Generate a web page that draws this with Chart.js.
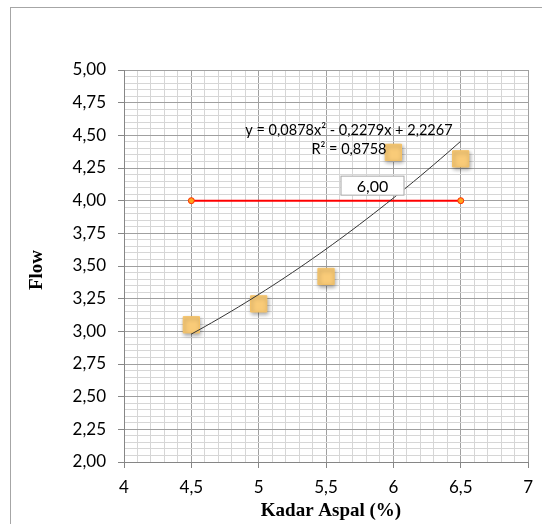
<!DOCTYPE html>
<html lang="id">
<head>
<meta charset="UTF-8">
<title>Flow vs Kadar Aspal</title>
<script src="https://cdn.jsdelivr.net/npm/chart.js"></script>
<style>
    html, body { margin: 0; padding: 0; background: #fff; }
    #wrap { position: relative; width: 542px; height: 524px; overflow: hidden; }
    #frame {
        position: absolute; left: 10px; top: 7px; width: 600px; height: 600px;
        border-left: 1px solid #a6a6a6; border-top: 1px solid #a6a6a6;
    }
    #chart { position: absolute; left: 0; top: 0; }
</style>
</head>
<body>
<div id="wrap">
    <div id="frame"></div>
    <canvas id="chart" width="542" height="524"></canvas>
</div>
<script>
    // hasil uji flow per kadar aspal
    const kadarAspal = [4.5, 5.0, 5.5, 6.0, 6.5];
    const flowValues = [3.05, 3.21, 3.42, 4.37, 4.32];

    // batas flow (garis merah)
    const batasX = [4.5, 6.5];
    const batasY = [4.00, 4.00];

    // trendline polinomial orde 2: a, b, c
    const trendCoef = [0.0878, -0.2279, 2.2267];
    const trendRange = [4.5, 6.5];
    const trendLabel = ['y = 0,0878x\u00B2 - 0,2279x + 2,2267', 'R\u00B2 = 0,8758'];
    const kadarOptimum = '6,00';

    const xTitle = 'Kadar Aspal (%)';
    const yTitle = 'Flow';

    const tickFont = { family: 'Lato', size: 17 };
    const fmt = (v, d) => v.toFixed(d).replace('.', ',');

    // titik-titik kurva trendline dari persamaan
    const trendPoints = [];
    for (let i = 0; i <= 40; i++) {
        const x = trendRange[0] + (trendRange[1] - trendRange[0]) * i / 40;
        trendPoints.push({ x: x, y: trendCoef[0] * x * x + trendCoef[1] * x + trendCoef[2] });
    }

    function stepTicks(min, max, step) {
        const n = Math.round((max - min) / step);
        const out = [];
        for (let i = 0; i <= n; i++) out.push({ value: +(min + i * step).toFixed(3) });
        return out;
    }
    const isMajor = (v, major) => Math.abs(v / major - Math.round(v / major)) < 1e-6;

    const textPlugin = {
        id: 'textPlugin',
        beforeDatasetDraw(chart, args) {
            if (args.index === 2) {
                chart.ctx.save();
                chart.ctx.shadowColor = 'rgba(0,0,0,0.35)';
                chart.ctx.shadowBlur = 4;
                chart.ctx.shadowOffsetX = 1;
                chart.ctx.shadowOffsetY = 2;
            }
        },
        afterDatasetDraw(chart, args) {
            if (args.index === 2) chart.ctx.restore();
        },
        afterDraw(chart) {
            const ctx = chart.ctx;
            const xs = chart.scales.x, ys = chart.scales.y;
            ctx.save();
            ctx.fillStyle = '#000';
            ctx.textAlign = 'center';
            ctx.textBaseline = 'middle';

            // label persamaan trendline
            ctx.font = '14.5px Lato';
            const ex = xs.getPixelForValue(5.67);
            ctx.fillText(trendLabel[0], ex, ys.getPixelForValue(4.54));
            ctx.fillText(trendLabel[1], ex, ys.getPixelForValue(4.395));

            // kotak nilai kadar aspal optimum
            const bx = xs.getPixelForValue(5.845), by = ys.getPixelForValue(4.115);
            ctx.fillStyle = '#fff';
            ctx.fillRect(bx - 32, by - 10, 64, 20);
            ctx.strokeStyle = '#a6a6a6';
            ctx.lineWidth = 1;
            ctx.strokeRect(bx - 31.5, by - 9.5, 63, 19);
            ctx.fillStyle = '#000';
            ctx.font = '16px Lato';
            ctx.fillText(kadarOptimum, bx, by + 1);

            // judul sumbu
            ctx.font = 'bold 19px "Liberation Serif"';
            ctx.fillText(xTitle, 331, 511);
            ctx.translate(37, 270);
            ctx.rotate(-Math.PI / 2);
            ctx.fillText(yTitle, 0, 0);
            ctx.restore();
        }
    };

    new Chart(document.getElementById('chart'), {
        type: 'scatter',
        data: {
            datasets: [{
                type: 'line',
                data: trendPoints,
                borderColor: '#333',
                borderWidth: 1,
                pointRadius: 0,
                tension: 0
            }, {
                type: 'line',
                data: batasX.map((x, i) => ({ x: x, y: batasY[i] })),
                borderColor: '#ff0000',
                borderWidth: 2,
                pointRadius: 3,
                pointBackgroundColor: '#ffa41c',
                pointBorderColor: '#ff2a00',
                pointBorderWidth: 1
            }, {
                data: kadarAspal.map((x, i) => ({ x: x, y: flowValues[i] })),
                pointStyle: 'rect',
                pointRadius: 11.5,
                backgroundColor: '#f9cb78',
                borderColor: '#f4c165',
                borderWidth: 1
            }]
        },
        options: {
            responsive: false,
            animation: false,
            events: [],
            layout: { padding: { left: 0, right: 10, top: 70, bottom: 0 } },
            plugins: { legend: { display: false }, tooltip: { enabled: false } },
            scales: {
                x: {
                    type: 'linear',
                    min: 4, max: 7,
                    afterBuildTicks: s => { s.ticks = stepTicks(4, 7, 0.1); },
                    afterFit: s => { s.height = 62; },
                    ticks: {
                        autoSkip: false, maxRotation: 0, minRotation: 0,
                        padding: 9, color: '#000', font: tickFont,
                        callback: v => isMajor(v, 0.5) ? (Number.isInteger(v) ? String(v) : fmt(v, 1)) : ''
                    },
                    grid: {
                        color: c => isMajor(c.tick.value, 0.5) ? '#a0a0a0' : '#d6d6d6',
                        tickColor: c => isMajor(c.tick.value, 0.5) ? '#868686' : 'rgba(0,0,0,0)',
                        tickLength: 6
                    },
                    border: { color: '#868686' }
                },
                y: {
                    type: 'linear',
                    min: 2, max: 5,
                    afterBuildTicks: s => { s.ticks = stepTicks(2, 5, 0.05); },
                    afterFit: s => { s.width = 124; },
                    ticks: {
                        autoSkip: false, padding: 12, color: '#000', font: tickFont,
                        callback: v => isMajor(v, 0.25) ? fmt(v, 2) : ''
                    },
                    grid: {
                        color: c => isMajor(c.tick.value, 0.25) ? '#a0a0a0' : '#d6d6d6',
                        tickColor: c => isMajor(c.tick.value, 0.25) ? '#868686' : 'rgba(0,0,0,0)',
                        tickLength: 6
                    },
                    border: { color: '#868686' }
                }
            }
        },
        plugins: [textPlugin]
    });
</script>
</body>
</html>
